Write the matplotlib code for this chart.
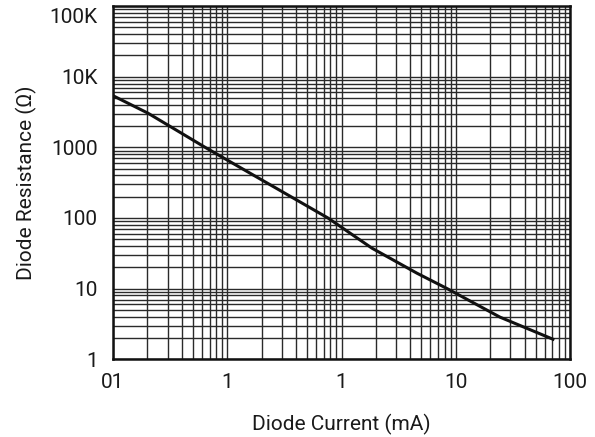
import matplotlib
matplotlib.use("Agg")
import matplotlib.pyplot as plt
import matplotlib.transforms as mtransforms
import numpy as np
from matplotlib.ticker import FixedLocator, LogLocator, NullFormatter

# Diode resistance vs current
current_ma = [0.0102, 0.0202, 0.064, 0.76, 1.85, 4.58, 8.4, 24.4, 70.9]
resistance = [5300, 3050, 1000, 100, 37.3, 16.5, 10, 3.94, 1.92]

x_ticks = [0.01, 0.1, 1, 10, 100]
x_labels = ["01", "1", "1", "10", "100"]
y_ticks = [1, 10, 100, 1000, 10000, 100000]
y_labels = ["1", "10", "100", "1000", "10K", "100K"]

plt.rcParams['font.family'] = ['Roboto', 'DejaVu Sans']

fig, ax = plt.subplots(figsize=(5.95, 4.37), dpi=100)
fig.subplots_adjust(left=0.19, right=0.958, top=0.986, bottom=0.178)

ax.set_xscale("log")
ax.set_yscale("log")
ax.set_xlim(0.01, 100)
ax.set_ylim(1, 100000)

ax.xaxis.set_major_locator(FixedLocator(x_ticks))
ax.yaxis.set_major_locator(FixedLocator(y_ticks))
ax.xaxis.set_minor_locator(LogLocator(base=10, subs=np.arange(2, 10)))
ax.yaxis.set_minor_locator(LogLocator(base=10, subs=np.arange(2, 10)))
ax.xaxis.set_minor_formatter(NullFormatter())
ax.yaxis.set_minor_formatter(NullFormatter())
ax.set_xticklabels(x_labels)
ax.set_yticklabels(y_labels)

ax.grid(True, which="both", color="#2a2a2a", linewidth=1.0)
ax.set_axisbelow(True)
ax.tick_params(which="both", length=0, labelsize=15, colors="#1a1a1a")
ax.tick_params(axis="x", pad=10)
ax.tick_params(axis="y", pad=11)

# top label sits a bit lower in the original so it isn't cut off
top_lbl = ax.get_yticklabels()[-1]
top_lbl.set_transform(top_lbl.get_transform() +
                      mtransforms.ScaledTranslation(0, -7 / 72, fig.dpi_scale_trans))

for s in ax.spines.values():
    s.set_linewidth(1.8)
    s.set_color("#111111")

ax.plot(current_ma, resistance, color="#111111", linewidth=2.2)

ax.set_xlabel("Diode Current (mA)", fontsize=15, labelpad=16, color="#1a1a1a")
ax.set_ylabel("Diode Resistance (\u03a9)", fontsize=15, labelpad=9, color="#1a1a1a")

fig.savefig("out.png", dpi=100)
